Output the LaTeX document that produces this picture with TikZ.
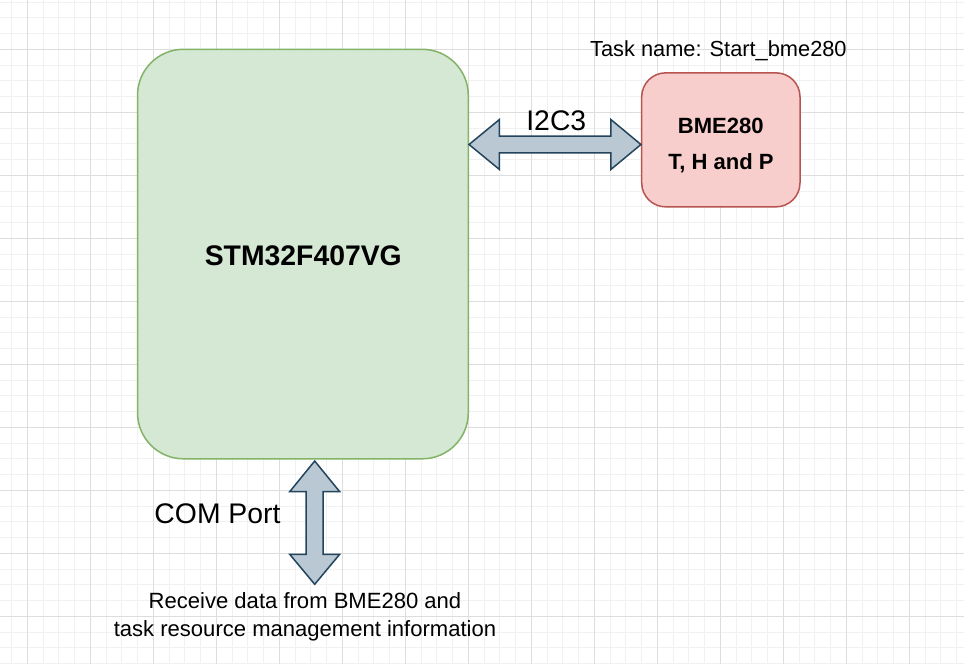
\documentclass[tikz,border=0pt]{standalone}
\usepackage{fontspec}
\setmainfont{Liberation Sans}
\usetikzlibrary{calc}
\definecolor{gfill}{HTML}{D5E8D4}
\definecolor{gdraw}{HTML}{82B366}
\definecolor{pfill}{HTML}{F8CECC}
\definecolor{pdraw}{HTML}{B85450}
\definecolor{afill}{HTML}{BAC8D3}
\definecolor{adraw}{HTML}{23445D}
\definecolor{minorc}{HTML}{F1F1F1}
\definecolor{majorc}{HTML}{DDDDDD}
\begin{document}
\begin{tikzpicture}[x=1pt,y=-1pt,
  minorgrid/.style={draw=minorc,line width=1pt},
  majorgrid/.style={draw=majorc,line width=1pt},
  blockarrow/.style={fill=afill,draw=adraw,line width=1.5pt,line join=miter},
  lbl/.style={anchor=base,inner sep=0pt,text=black},
  greenbox/.style={draw=gdraw,fill=gfill,line width=1.5pt,rounded corners=46pt,inner sep=0pt},
  pinkbox/.style={draw=pdraw,fill=pfill,line width=1.5pt,rounded corners=24pt,inner sep=0pt}]
\useasboundingbox (0,0) rectangle (964,664);
\fill[white] (0,0) rectangle (964,664);
% grid
\foreach \i in {-1,...,61} {
  \pgfmathsetmacro\gx{27.3+15.75*\i}
  \draw[minorgrid] (\gx,0) -- (\gx,664);
}
\foreach \i in {0,...,42} {
  \pgfmathsetmacro\gy{2.05+15.75*\i}
  \draw[minorgrid] (0,\gy) -- (964,\gy);
}
\foreach \i in {0,...,15} {
  \pgfmathsetmacro\gx{27.3+63*\i}
  \draw[majorgrid] (\gx,0) -- (\gx,664);
}
\foreach \i in {0,...,10} {
  \pgfmathsetmacro\gy{49.3+63*\i}
  \draw[majorgrid] (0,\gy) -- (964,\gy);
}
% boxes
\node[greenbox,minimum width=330.75pt,minimum height=409.5pt] (stm) at (302.9,254.05) {};
\node[pinkbox,minimum width=158.3pt,minimum height=134pt] (bme) at (720.85,139.85) {};
% texts
\node[lbl,font=\bfseries\fontsize{28.35}{34}\selectfont] (stmtxt) at (303.3,265) {STM32F407VG};
\node[lbl,font=\bfseries\fontsize{22.05}{26}\selectfont] (bmetxt1) at (720.8,133.3) {BME280};
\node[lbl,font=\bfseries\fontsize{22.05}{26}\selectfont] (bmetxt2) at (721,169) {T, H and P};
\node[lbl,font=\fontsize{21.8}{26}\selectfont] (task) at (718.4,56.7) {Task name: Start\_bme280};
\node[lbl,font=\fontsize{28.35}{34}\selectfont] (i2c) at (556.3,130) {I2C3};
\node[lbl,font=\fontsize{28.35}{34}\selectfont] (com) at (217.5,523.3) {COM Port};
\node[lbl,font=\fontsize{22.05}{26}\selectfont] (recv1) at (305,608.3) {Receive data from BME280 and};
\node[lbl,font=\fontsize{22.05}{26}\selectfont] (recv2) at (305,636.5) {task resource management information};
% arrow ends
\coordinate (h1) at (stm.east |- 0,144.5);
\coordinate (h2) at (bme.west |- 0,144.5);
\coordinate (v1) at (314.7,461);
\coordinate (v2) at (314.7,584.3);
% horizontal double arrow
\draw[blockarrow] (h1) -- ($(h1)+(30.3,-24.9)$) -- ($(h1)+(30.3,-8.3)$) -- ($(h2)+(-30,-8.3)$) -- ($(h2)+(-30,-24.9)$) -- (h2)
  -- ($(h2)+(-30,24.9)$) -- ($(h2)+(-30,8.3)$) -- ($(h1)+(30.3,8.3)$) -- ($(h1)+(30.3,24.9)$) -- cycle;
% vertical double arrow
\draw[blockarrow] (v1) -- ($(v1)+(25,30.7)$) -- ($(v1)+(8.5,30.7)$) -- ($(v2)+(8.5,-30)$) -- ($(v2)+(25,-30)$) -- (v2)
  -- ($(v2)+(-25,-30)$) -- ($(v2)+(-8.5,-30)$) -- ($(v1)+(-8.5,30.7)$) -- ($(v1)+(-25,30.7)$) -- cycle;
\end{tikzpicture}
\end{document}
